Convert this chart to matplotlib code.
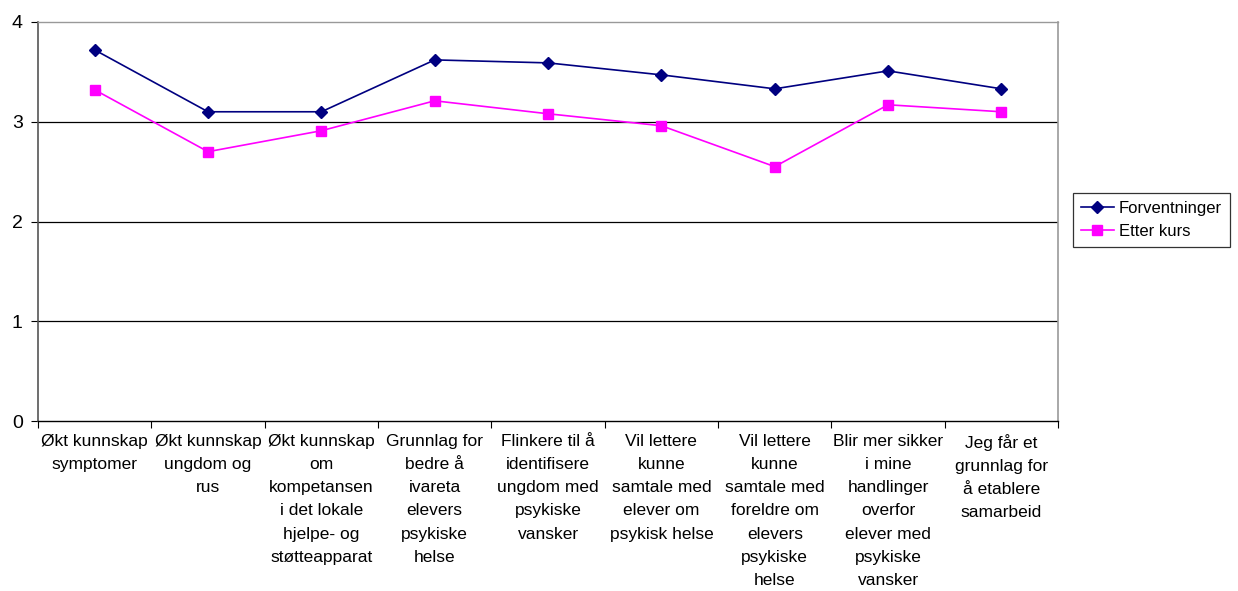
import matplotlib.pyplot as plt
import numpy as np

plt.rcParams.update({
	"font.family": ["Liberation Sans", "DejaVu Sans"],
})
font_size = 12.5

categories = [
	"Økt kunnskap\nsymptomer",
	"Økt kunnskap\nungdom og\nrus",
	"Økt kunnskap\nom\nkompetansen\ni det lokale\nhjelpe- og\nstøtteapparat",
	"Grunnlag for\nbedre å\nivareta\nelevers\npsykiske\nhelse",
	"Flinkere til å\nidentifisere\nungdom med\npsykiske\nvansker",
	"Vil lettere\nkunne\nsamtale med\nelever om\npsykisk helse",
	"Vil lettere\nkunne\nsamtale med\nforeldre om\nelevers\npsykiske\nhelse",
	"Blir mer sikker\ni mine\nhandlinger\noverfor\nelever med\npsykiske\nvansker",
	"Jeg får et\ngrunnlag for\nå etablere\nsamarbeid",
]
forventninger = [3.72, 3.10, 3.10, 3.62, 3.59, 3.47, 3.33, 3.51, 3.33]
etter_kurs = [3.32, 2.70, 2.91, 3.21, 3.08, 2.96, 2.55, 3.17, 3.10]

fig = plt.figure(figsize=(12.38, 5.91), dpi=100)
ax = fig.add_axes([0.0307, 0.2876, 0.824, 0.6752])

x = np.arange(len(categories))
ax.plot(x, forventninger, color="#000080", marker="D", markersize=6.5, linewidth=1.2, label="Forventninger")
ax.plot(x, etter_kurs, color="#FF00FF", marker="s", markersize=7, linewidth=1.2, label="Etter kurs")

ax.set_xlim(-0.5, len(categories) - 0.5)
ax.set_ylim(0, 4)
ax.set_yticks([0, 1, 2, 3, 4])
ax.tick_params(axis="y", labelsize=14, length=5, direction="out", pad=6)

# category labels between boundary ticks
ax.set_xticks(np.arange(len(categories) + 1) - 0.5)
ax.set_xticklabels([])
ax.tick_params(axis="x", length=5, direction="out")
for i, lab in enumerate(categories):
	ax.text(i, -0.13, lab, ha="center", va="top", fontsize=font_size, linespacing=1.68,
		transform=ax.transData, clip_on=False)

# grid
for yv in [1, 2, 3]:
	ax.axhline(yv, color="black", lw=0.9, zorder=0)

# border
ax.spines["left"].set_color("#555555")
ax.spines["left"].set_linewidth(1.2)
ax.spines["bottom"].set_color("black")
ax.spines["bottom"].set_linewidth(1.0)
ax.spines["top"].set_color("#999999")
ax.spines["right"].set_color("#999999")
ax.spines["top"].set_linewidth(1.0)
ax.spines["right"].set_linewidth(1.2)

leg = ax.legend(loc="center left", bbox_to_anchor=(1.0147, 0.504), frameon=True, fancybox=False,
	edgecolor="black", fontsize=12, handlelength=2.0, handletextpad=0.3,
	borderpad=0.45, labelspacing=0.5, borderaxespad=0)
leg.get_frame().set_linewidth(0.9)

plt.savefig("out.png", dpi=100)
plt.close()
